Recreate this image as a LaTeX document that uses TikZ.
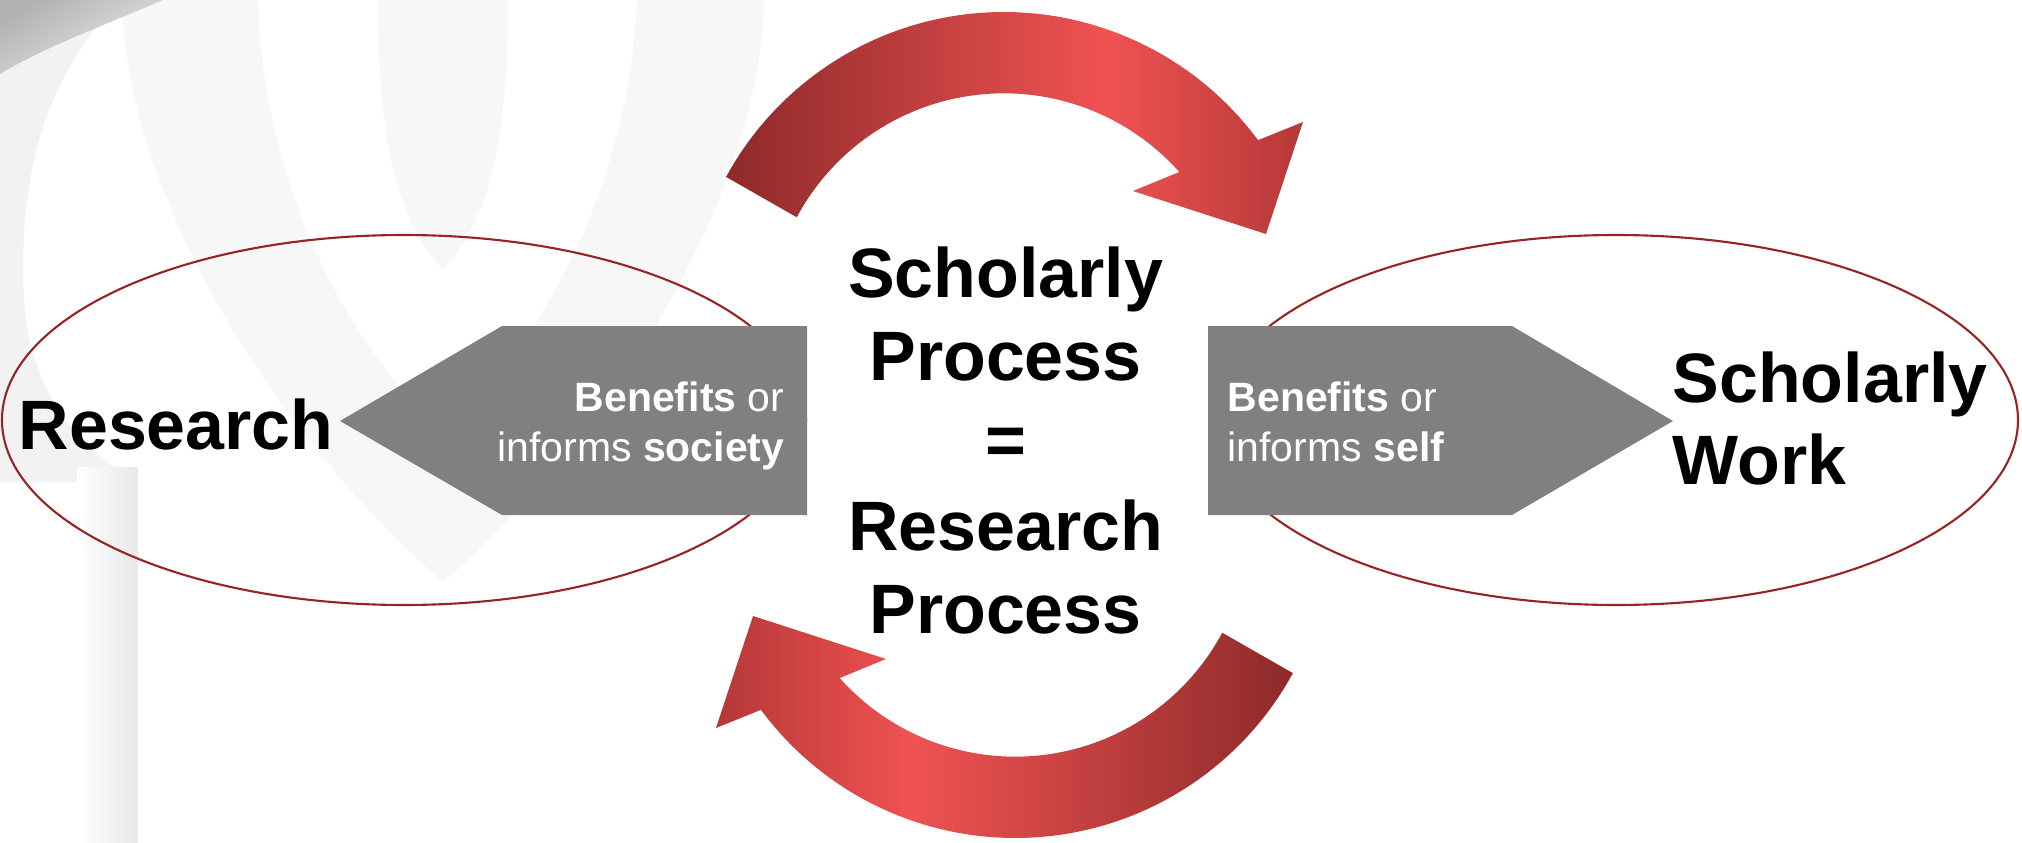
\documentclass[tikz,border=0pt]{standalone}
\usepackage{fontspec}
\setmainfont{Liberation Sans}
\usetikzlibrary{shapes.geometric}
\definecolor{arcdark}{HTML}{8E2A2A}
\definecolor{arcbright}{HTML}{F05252}
\definecolor{arcmid}{HTML}{B53838}
\definecolor{ellred}{HTML}{962424}
\definecolor{boxgrey}{HTML}{808080}
\definecolor{bgA}{HTML}{F7F7F7}
\definecolor{bgB}{HTML}{F2F2F2}
\pgfdeclarehorizontalshading{arcshade}{100bp}{color(0bp)=(arcdark); color(25bp)=(arcdark); color(58bp)=(arcbright); color(75bp)=(arcmid); color(100bp)=(arcmid)}
\begin{document}
\begin{tikzpicture}[x=1cm,y=1cm,
  big/.style={font=\fontsize{19.9pt}{24pt}\selectfont\bfseries, inner sep=0pt},
  small/.style={font=\fontsize{11.66pt}{14pt}\selectfont, text=white, inner sep=0pt},
  ell/.style={ellipse, draw=ellred, line width=0.6pt, minimum width=8.04cm, minimum height=3.70cm, inner sep=0pt},
  greybox/.style={fill=boxgrey},
  redarc/.style={shading=arcshade}]
\useasboundingbox (0,0) rectangle (20.22,8.42);
\fill[white] (0,0) rectangle (20.22,8.42);
% faint background decoration
\fill[bgB] (0,8.42) -- (1.22,8.42) .. controls (0.45,7.7) and (0.15,6.6) .. (0.25,5.3)
  .. controls (0.33,4.5) and (0.8,3.9) .. (1.38,3.6) -- (0,3.6) -- cycle;
\fill[bgA, even odd rule]
  (1.22,8.42) .. controls (1.25,6.6) and (2.6,4.2) .. (4.43,2.6)
  .. controls (6.26,4.2) and (7.61,6.6) .. (7.64,8.42) -- cycle
  (2.58,8.42) .. controls (2.62,6.6) and (3.5,4.9) .. (4.43,4.12)
  .. controls (5.4,4.9) and (6.3,6.6) .. (6.37,8.42) -- cycle;
\fill[bgA] (3.78,8.42) .. controls (3.78,6.9) and (4.0,6.2) .. (4.43,5.72)
  .. controls (4.86,6.2) and (5.08,6.9) .. (5.08,8.42) -- cycle;
\shade[left color=white, right color=black!9] (0.77,0) rectangle (1.38,3.75);
\shade[top color=black!30, bottom color=black!8, shading angle=30]
  (0,8.42) -- (1.63,8.42) .. controls (1.0,8.15) and (0.45,7.95) .. (0,7.68) -- cycle;
% ellipses
\node[ell] (lell) at (4.04,4.22) {};
\node[ell] (rell) at (16.16,4.22) {};
% grey pointers
\fill[greybox] (3.40,4.21) -- (5.02,5.16) -- (8.07,5.16) -- (8.07,3.27) -- (5.02,3.27) -- cycle;
\fill[greybox] (12.08,5.16) -- (15.12,5.16) -- (16.73,4.21) -- (15.12,3.27) -- (12.08,3.27) -- cycle;
% red curved arrows
\shade[redarc] (7.261,6.651) arc[start angle=151.4, end angle=36.5, radius=3.163]
  -- (13.03,7.20) -- (12.66,6.08) -- (11.33,6.51) -- (11.793,6.700)
  arc[start angle=41.7, end angle=151.8, radius=2.35] -- cycle;
\shade[redarc, shading angle=180] (12.929,1.689) arc[start angle=331.4, end angle=216.5, radius=3.163]
  -- (7.16,1.14) -- (7.53,2.26) -- (8.86,1.83) -- (8.397,1.640)
  arc[start angle=221.7, end angle=331.8, radius=2.35] -- cycle;
% texts
\node[big, anchor=base west] (research) at (0.18,3.93) {Research};
\node[big, anchor=base west] (sw1) at (16.72,4.40) {Scholarly};
\node[big, anchor=base west] (sw2) at (16.72,3.58) {Work};
\node[big, anchor=base] (c1) at (10.055,5.45) {Scholarly};
\node[big, anchor=base] (c2) at (10.055,4.62) {Process};
\node[big, anchor=base] (c3) at (10.055,3.77) {=};
\node[big, anchor=base] (c4) at (10.055,2.92) {Research};
\node[big, anchor=base] (c5) at (10.055,2.09) {Process};
\node[small, anchor=base east] (ls1) at (7.85,4.31) {\textbf{Benefits} or};
\node[small, anchor=base east] (ls2) at (7.85,3.81) {informs \textbf{society}};
\node[small, anchor=base west] (rs1) at (12.27,4.31) {\textbf{Benefits} or};
\node[small, anchor=base west] (rs2) at (12.27,3.81) {informs \textbf{self}};
\end{tikzpicture}
\end{document}
